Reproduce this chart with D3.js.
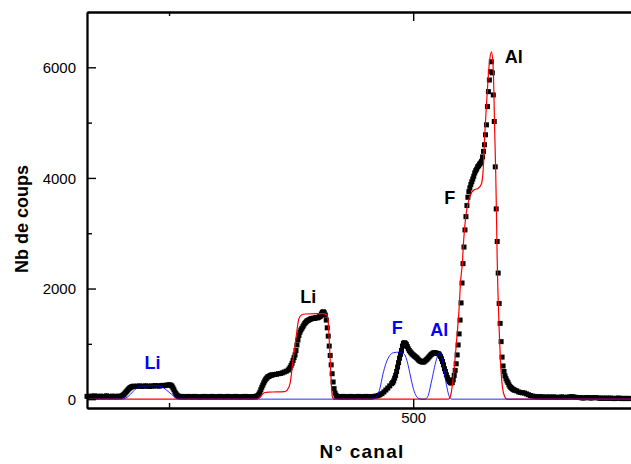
<!DOCTYPE html>
<html>
<head>
<meta charset="utf-8">
<script src="https://cdn.jsdelivr.net/npm/d3@7"></script>
<style>
  body { margin: 0; background: #fff; }
  svg { display: block; }
</style>
</head>
<body>
<svg id="chart" width="631" height="464"></svg>
<script>
// spectre mesure : [canal, coups]
var mesures = [
  [166,50],[168,45],[170,55],[172,50],[174,60],[176,45],[178,50],[180,55],[182,45],[184,50],
  [186,60],[188,50],[190,45],[192,55],[194,50],[196,45],[198,55],[200,50],[202,60],
  [203,75],[204,90],[205,110],[206,130],[207,150],[208,170],[209,190],[210,205],[211,215],
  [212,225],[213,230],[214,235],[216,230],[218,235],[220,240],[222,230],[224,235],[226,240],
  [228,235],[230,230],[232,240],[234,235],[236,245],[238,240],[240,235],[242,245],[244,250],
  [246,245],[248,255],[250,260],[251,255],[252,250],[253,235],[254,205],[255,170],[256,130],
  [257,100],[258,75],[259,60],[260,50],
  [262,45],[264,50],[266,40],[268,45],[270,50],[272,40],[274,45],[276,50],[278,40],[280,45],
  [282,35],[284,45],[286,50],[288,40],[290,45],[292,40],[294,50],[296,45],[298,40],[300,45],
  [302,50],[304,40],[306,45],[308,40],[310,50],[312,45],[314,40],[316,45],[318,50],[320,40],
  [322,45],[324,40],[326,45],[328,50],[330,40],[332,45],[334,40],[336,45],[338,50],[340,55],
  [341,65],[342,90],[343,125],[344,170],[345,215],[346,255],[347,295],[348,330],[349,360],
  [350,380],[351,400],[352,410],[353,420],[354,430],[355,435],[356,440],[358,445],[360,450],
  [362,460],[364,465],[366,475],[368,490],[370,505],[372,525],[373,545],[374,575],[375,610],
  [376,650],[377,700],[378,750],[379,800],[380,880],[381,980],[382,1070],[383,1150],[384,1210],
  [385,1250],[386,1280],[387,1310],[388,1340],[389,1370],[390,1390],[391,1410],[392,1420],
  [393,1430],[394,1440],[395,1450],[396,1455],[397,1460],[398,1465],[399,1460],[400,1470],
  [401,1475],[402,1470],[403,1480],[404,1490],[405,1500],[406,1540],[407,1570],[408,1580],
  [409,1560],[410,1520],[411,1430],[412,1290],[413,1140],[414,960],[415,790],[416,620],
  [417,460],[418,310],[419,190],[420,110],[421,70],[422,50],
  [424,45],[426,40],[428,50],[430,40],[432,45],[434,40],[436,50],[438,45],[440,40],[442,45],
  [444,50],[446,40],[448,45],[450,40],[452,50],[454,45],[456,40],[458,45],
  [460,50],[462,55],[464,65],[466,80],[468,100],[470,130],[472,165],[474,200],[476,240],
  [478,280],[479,300],[480,330],[481,380],[482,430],[483,500],[484,580],[485,660],[486,740],
  [487,810],[488,880],[489,960],[490,1010],[491,1020],[492,1010],[493,990],[494,950],[495,910],
  [496,880],[497,855],[498,835],[499,815],[500,800],[501,785],[502,770],[503,755],[504,740],
  [505,720],[506,700],[507,690],[508,680],[509,675],[510,670],[511,675],[512,690],[513,705],
  [514,720],[515,740],[516,760],[517,780],[518,800],[519,815],[520,830],[521,835],[522,840],
  [523,835],[524,830],[525,825],[526,820],[527,800],[528,770],[529,730],[530,680],[531,620],
  [532,550],[533,500],[534,440],[535,390],[536,350],[537,320],[538,300],[539,290],[540,300],
  [541,350],[542,430],[543,520],[544,640],[545,800],[546,980],[547,1180],[548,1430],[549,1740],
  [550,2100],[551,2450],[552,2750],[553,3060],[554,3300],[555,3500],[556,3650],[557,3750],
  [558,3820],[559,3880],[560,3930],[561,3980],[562,4030],[563,4090],[564,4130],[565,4160],
  [566,4200],[567,4220],[568,4250],[569,4270],[570,4300],[571,4380],[572,4480],[573,4600],
  [574,4780],[575,4960],[576,5290],[577,5560],[578,5770],[579,5920],[580,6100],[581,5900],
  [582,5500],[583,5020],[584,4200],[585,3440],[586,2850],[587,2280],[588,1730],[589,1370],
  [590,1040],[591,760],[592,600],[593,500],[594,420],[595,370],[596,330],[597,300],[598,260],
  [599,230],[600,210],[601,195],[602,180],[603,170],[604,160],[606,150],[608,130],[610,120],
  [612,115],[614,110],[616,95],[618,80],[620,65],[622,55],
  [624,50],[626,45],[628,40],[630,45],[632,40],[634,35],[636,40],[638,35],[640,40],[642,35],
  [644,40],[646,35],[648,30],[650,35],[652,40],[654,35],[656,30],[658,35],[660,40],[662,45],
  [664,40],[666,35],[668,30],[670,30],[672,25],[674,20],[676,25],[678,30],[680,25],[682,20],
  [684,25],[686,30],[688,25],[690,20],[692,15],[694,20],[696,15],[698,20],[700,15],[702,20],
  [704,15],[706,10],[708,15],[710,20],[712,15],[714,10],[716,15],[718,10],[720,15],[722,10]
];

// ajustement total (rouge)
var ajustement = [
  [166,0],[340,0],[342,20],[345,75],[348,120],[352,128],[360,130],[368,135],[371,165],[374,290],
  [376,560],[377,720],[379,950],[381,1250],[383,1460],[386,1525],[390,1540],[400,1545],[408,1545],
  [411,1530],[412.5,1480],[413.5,1250],[414.5,890],[415.5,530],[416.5,170],[417.5,25],[419,0],
  [536,0],[538,45],[541.5,470],[544.2,1010],[546.9,1610],[548.6,2150],[550.3,2450],[551.7,2880],
  [553.8,3300],[556.1,3540],[559.6,3730],[563,3790],[566.4,3810],[569.8,3890],[571.5,4110],
  [573.2,4750],[574.9,5290],[576.6,5770],[578.3,6130],[580.1,6280],[581.7,6070],[582.7,5470],
  [583.4,4870],[584.5,4080],[585.3,3300],[586,2520],[586.8,1910],[587.9,1310],[589.3,710],
  [591.3,225],[593.7,45],[596,0],[723,0]
];

// composantes (bleu)
var composantes = [
  [166,0],[201,0],[203,5],[208,44],[213,135],[218,214],[223.4,238],[233.6,243],[242,228],
  [247.3,165],[252.5,88],[257.6,15],[260,0],
  [458,0],[463,60],[466,200],[469,450],[472,640],[476,790],[480,840],[486,850],[491,810],
  [493,730],[495.5,560],[498,350],[500.5,170],[503,60],[506,10],[509,0],[512,0],[515,50],
  [518.6,310],[523.7,710],[527,850],[530.2,680],[533.6,300],[537,44],[539,0],[723,0]
];

// etiquettes : texte, canal, coups, couleur
var etiquettes = [
  ["Li", 233, 545, "#0000ff"],
  ["Li", 392.5, 1738, "#000000"],
  ["F", 483.6, 1178, "#0000ff"],
  ["Al", 526.6, 1142, "#0000ff"],
  ["F", 537.4, 3528, "#000000"],
  ["Al", 602.9, 6078, "#000000"]
];

var yMajeurs = [0, 2000, 4000, 6000];
var yMineurs = [1000, 3000, 5000];
var xMajeurs = [500];
var xMineurs = [250, 750];

var police = "Arial, 'Liberation Sans', sans-serif";

var svg = d3.select("#chart");

var x = d3.scaleLinear().domain([166, 723]).range([87, 631]);
var y = d3.scaleLinear().domain([-160, 7000]).range([408, 12]);

// points de mesure
svg.append("g")
  .selectAll("rect")
  .data(mesures)
  .join("rect")
  .attr("x", d => x(d[0]) - 2.5)
  .attr("y", d => y(d[1]) - 2.5)
  .attr("width", 5)
  .attr("height", 5)
  .attr("fill", "#000");

var ligne = d3.line()
  .x(d => x(d[0]))
  .y(d => y(d[1]))
  .curve(d3.curveMonotoneX);

svg.append("path")
  .datum(ajustement)
  .attr("d", ligne)
  .attr("fill", "none")
  .attr("stroke", "#ff0000")
  .attr("stroke-width", 1.2);

svg.append("path")
  .datum(composantes)
  .attr("d", ligne)
  .attr("fill", "none")
  .attr("stroke", "#0000ff")
  .attr("stroke-opacity", 0.85)
  .attr("stroke-width", 1);

// axes
var axeY = svg.append("g")
  .attr("transform", "translate(87,0)")
  .call(d3.axisLeft(y).tickValues(yMajeurs).tickFormat(d3.format("d"))
    .tickSizeInner(-9).tickSizeOuter(0).tickPadding(11));
svg.append("g")
  .attr("transform", "translate(87,0)")
  .call(d3.axisLeft(y).tickValues(yMineurs).tickSizeInner(-5).tickSizeOuter(0).tickFormat(""));

var axeX = svg.append("g")
  .attr("transform", "translate(0,408)")
  .call(d3.axisBottom(x).tickValues(xMajeurs).tickFormat(d3.format("d"))
    .tickSizeInner(-9).tickSizeOuter(0).tickPadding(3));
svg.append("g")
  .attr("transform", "translate(0,408)")
  .call(d3.axisBottom(x).tickValues(xMineurs).tickSizeInner(-5).tickSizeOuter(0).tickFormat(""));

svg.append("g")
  .attr("transform", "translate(0,12)")
  .call(d3.axisTop(x).tickValues(xMajeurs).tickSizeInner(-9).tickSizeOuter(0).tickFormat(""));
svg.append("g")
  .attr("transform", "translate(0,12)")
  .call(d3.axisTop(x).tickValues(xMineurs).tickSizeInner(-4).tickSizeOuter(0).tickFormat(""));

svg.selectAll(".domain").attr("stroke", "#000").attr("stroke-width", 1.8);
svg.selectAll(".tick line").attr("stroke", "#000").attr("stroke-width", 1.4);
svg.selectAll(".tick text")
  .attr("font-family", police)
  .attr("font-size", 15)
  .attr("fill", "#000");
axeY.selectAll(".tick text").attr("dy", "0.34em");
axeX.selectAll(".tick text").attr("dy", "0.78em");

// titres des axes
svg.append("text")
  .attr("x", 362)
  .attr("y", 458)
  .attr("text-anchor", "middle")
  .attr("font-family", police)
  .attr("font-weight", "bold")
  .attr("font-size", 19)
  .attr("letter-spacing", 1.2)
  .text("N° canal");

svg.append("text")
  .attr("transform", "translate(27.5,219) rotate(-90)")
  .attr("text-anchor", "middle")
  .attr("font-family", police)
  .attr("font-weight", "bold")
  .attr("font-size", 18)
  .text("Nb de coups");

// etiquettes des pics
svg.append("g")
  .selectAll("text")
  .data(etiquettes)
  .join("text")
  .attr("x", d => x(d[1]))
  .attr("y", d => y(d[2]))
  .attr("text-anchor", "middle")
  .attr("font-family", police)
  .attr("font-weight", "bold")
  .attr("font-size", 18)
  .attr("fill", d => d[3])
  .text(d => d[0]);
</script>
</body>
</html>
